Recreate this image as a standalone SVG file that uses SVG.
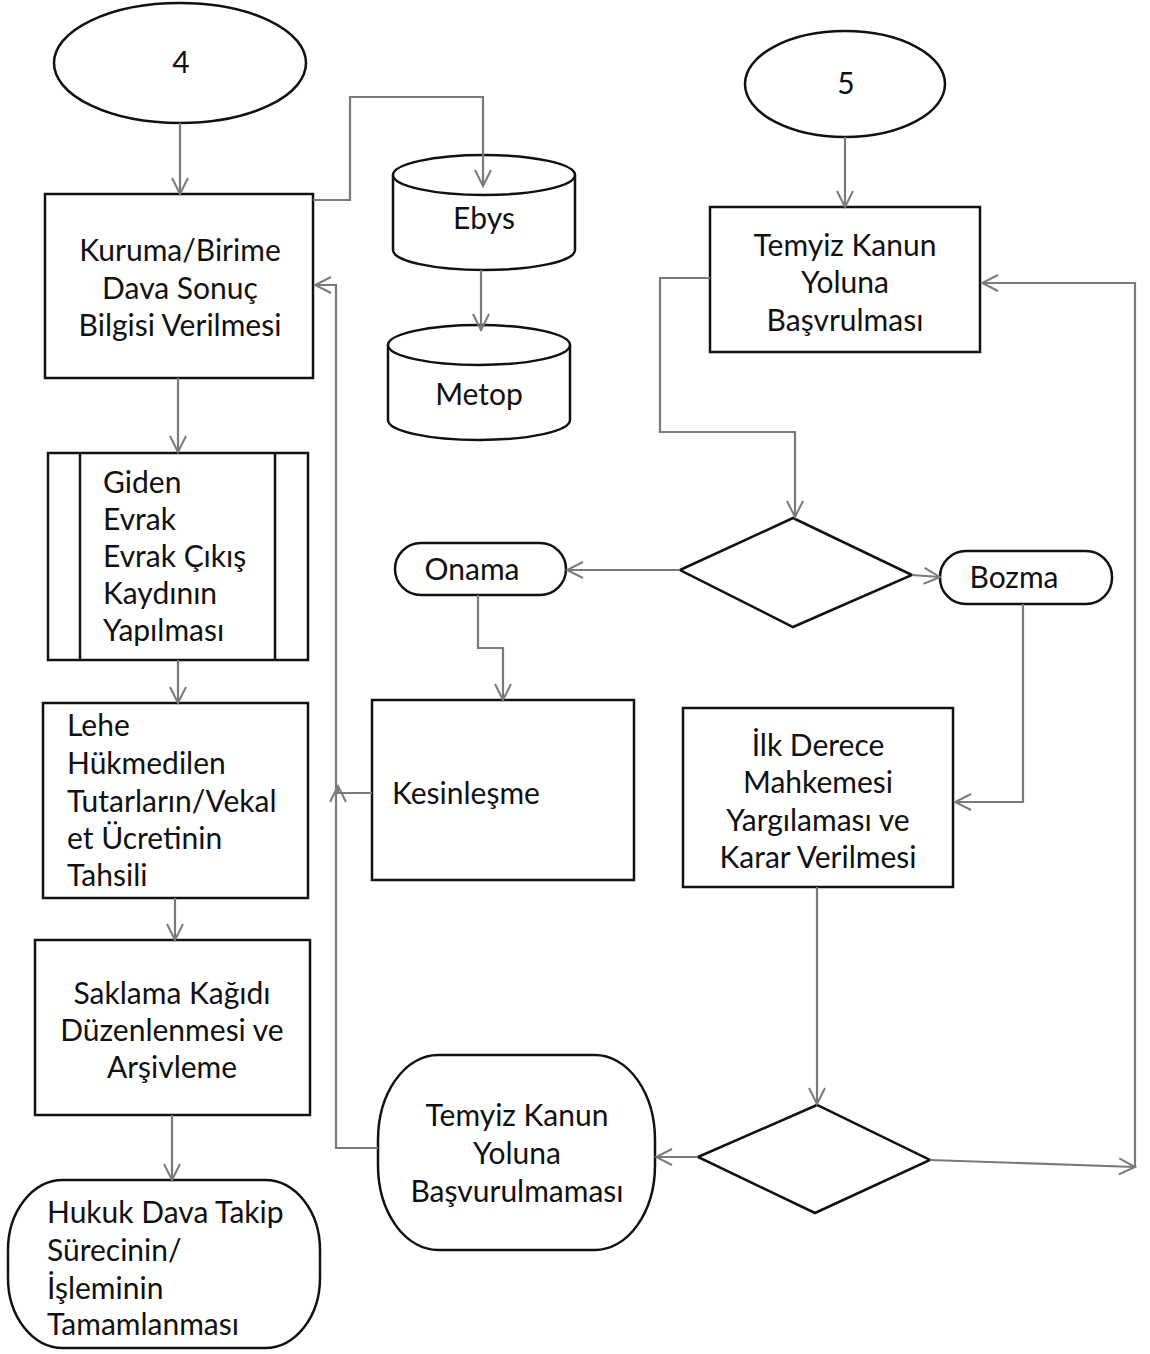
<svg xmlns="http://www.w3.org/2000/svg" width="1150" height="1354" viewBox="0 0 1150 1354">
<defs>
<marker id="arr" viewBox="0 0 20 20" refX="18" refY="10" markerWidth="20" markerHeight="20" markerUnits="userSpaceOnUse" orient="auto">
<path d="M2,2 L18,10 L2,18" fill="none" stroke="#7a7a7a" stroke-width="2"/>
</marker>
</defs>
<style>
.n{fill:#fff;stroke:#111;stroke-width:2.5}
.c{fill:none;stroke:#7a7a7a;stroke-width:2.2;marker-end:url(#arr)}
text{font-family:Lato,"Liberation Sans",sans-serif;font-size:30px;fill:#111}
.m{text-anchor:middle}
</style>
<rect width="1150" height="1354" fill="#fff"/>
<g id="n4">
<ellipse class="n" cx="180" cy="63" rx="126" ry="60"/>
<text class="m" x="181" y="73">4</text>
</g>
<g id="n5">
<ellipse class="n" cx="845" cy="84" rx="100" ry="53"/>
<text class="m" x="846" y="94">5</text>
</g>
<g id="kuruma">
<rect class="n" x="45" y="194" width="268" height="184"/>
<text class="m" x="180" y="261">Kuruma/Birime</text>
<text class="m" x="180" y="299">Dava Sonuç</text>
<text class="m" x="180" y="336">Bilgisi Verilmesi</text>
</g>
<g id="ebys">
<path class="n" d="M393,175 A91,20 0 0 1 575,175 V250 A91,20 0 0 1 393,250 Z"/>
<path class="n" fill="none" d="M393,175 A91,20 0 0 0 575,175"/>
<text class="m" x="484" y="229">Ebys</text>
</g>
<g id="metop">
<path class="n" d="M388,345 A91,20 0 0 1 570,345 V420 A91,20 0 0 1 388,420 Z"/>
<path class="n" fill="none" d="M388,345 A91,20 0 0 0 570,345"/>
<text class="m" x="479" y="405">Metop</text>
</g>
<g id="giden">
<rect class="n" x="48" y="453" width="260" height="207"/>
<line class="n" x1="80" y1="453" x2="80" y2="660"/>
<line class="n" x1="275" y1="453" x2="275" y2="660"/>
<text x="103" y="493">Giden</text>
<text x="103" y="530">Evrak</text>
<text x="103" y="567">Evrak Çıkış</text>
<text x="103" y="604">Kaydının</text>
<text x="103" y="641">Yapılması</text>
</g>
<g id="lehe">
<rect class="n" x="43" y="703" width="265" height="195"/>
<text x="67" y="736">Lehe</text>
<text x="67" y="774">Hükmedilen</text>
<text x="67" y="812">Tutarların/Vekal</text>
<text x="67" y="849">et Ücretinin</text>
<text x="67" y="886">Tahsili</text>
</g>
<g id="saklama">
<rect class="n" x="35" y="940" width="275" height="175"/>
<text class="m" x="172" y="1004">Saklama Kağıdı</text>
<text class="m" x="172" y="1041">Düzenlenmesi ve</text>
<text class="m" x="172" y="1078">Arşivleme</text>
</g>
<g id="hukuk">
<rect class="n" x="8" y="1180" width="312" height="168" rx="55" ry="70"/>
<text x="47" y="1223">Hukuk Dava Takip</text>
<text x="47" y="1261">Sürecinin/</text>
<text x="47" y="1299">İşleminin</text>
<text x="47" y="1335">Tamamlanması</text>
</g>
<g id="temyiz">
<rect class="n" x="710" y="207" width="270" height="145"/>
<text class="m" x="845" y="256">Temyiz Kanun</text>
<text class="m" x="845" y="293">Yoluna</text>
<text class="m" x="845" y="331">Başvrulması</text>
</g>
<g id="karar1">
<polygon class="n" points="680,570 793,518 912,575 793,627"/>
</g>
<g id="onama">
<rect class="n" x="395" y="543" width="171" height="52" rx="26"/>
<text class="m" x="472" y="580">Onama</text>
</g>
<g id="bozma">
<rect class="n" x="940" y="551" width="172" height="53" rx="26"/>
<text class="m" x="1014" y="588">Bozma</text>
</g>
<g id="kesinlesme">
<rect class="n" x="372" y="700" width="262" height="180"/>
<text x="392" y="804">Kesinleşme</text>
</g>
<g id="ilk">
<rect class="n" x="683" y="708" width="270" height="179"/>
<text class="m" x="818" y="756">İlk Derece</text>
<text class="m" x="818" y="793">Mahkemesi</text>
<text class="m" x="818" y="831">Yargılaması ve</text>
<text class="m" x="818" y="868">Karar Verilmesi</text>
</g>
<g id="karar2">
<polygon class="n" points="698,1157 817,1105 930,1160 815,1213"/>
</g>
<g id="basvurulmamasi">
<rect class="n" x="378" y="1055" width="277" height="195" rx="60" ry="85"/>
<text class="m" x="517" y="1126">Temyiz Kanun</text>
<text class="m" x="517" y="1164">Yoluna</text>
<text class="m" x="517" y="1202">Başvurulmaması</text>
</g>
<g id="connectors">
<path class="c" d="M180,123 V194"/>
<path class="c" d="M313,200 H350 V97 H483 V186"/>
<path class="c" d="M481,270 V330"/>
<path class="c" d="M178,378 V452"/>
<path class="c" d="M178,660 V703"/>
<path class="c" d="M175,898 V940"/>
<path class="c" d="M172,1115 V1180"/>
<path class="c" d="M378,1148 H336 V285 H315"/>
<path class="c" d="M372,793 H338 V786"/>
<path class="c" d="M845,137 V207"/>
<path class="c" d="M710,278 H660 V432 H795 V517"/>
<path class="c" d="M680,570 H567"/>
<path class="c" d="M912,575 L940,577"/>
<path class="c" d="M478,595 V648 H503 V700"/>
<path class="c" d="M1023,604 V802 H955"/>
<path class="c" d="M817,887 V1104"/>
<path class="c" d="M698,1157 H656"/>
<path class="c" d="M930,1160 L1135,1167"/>
<path class="c" d="M1135,1167 V283 H982"/>
</g>
</svg>
